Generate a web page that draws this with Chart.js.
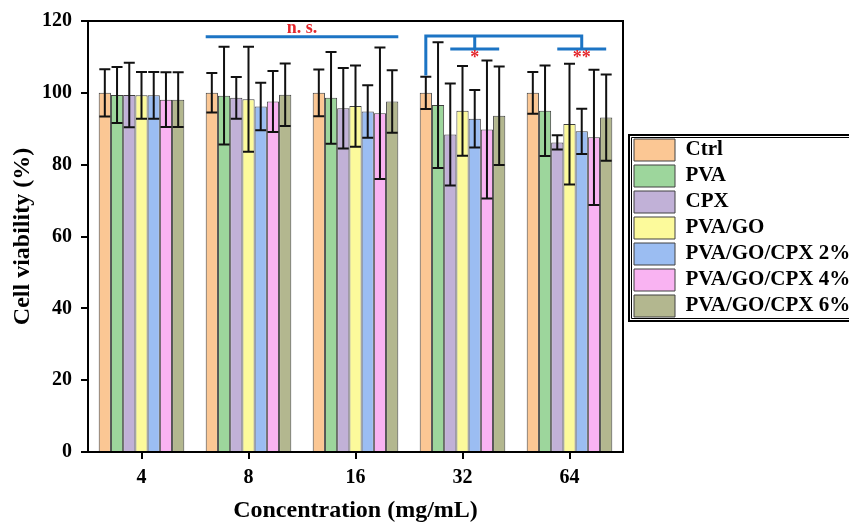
<!DOCTYPE html>
<html>
<head>
<meta charset="utf-8">
<script src="https://cdn.jsdelivr.net/npm/chart.js@4.4.1/dist/chart.umd.min.js"></script>
<style>
  html, body { margin: 0; background: #fff; overflow: hidden; }
  #wrap { width: 849px; height: 523px; }
  #myChart { display: block; }
</style>
</head>
<body>
<div id="wrap"><canvas id="myChart" width="849" height="523"></canvas></div>
<script>
// categories and groups
const concentrations = ['4', '8', '16', '32', '64'];
const groupNames = ['Ctrl', 'PVA', 'CPX', 'PVA/GO', 'PVA/GO/CPX 2%', 'PVA/GO/CPX 4%', 'PVA/GO/CPX 6%'];

// mean cell viability (%) per group, one value per concentration
const ctrlMean   = [100.0, 100.0, 100.0, 100.0, 100.0];
const pvaMean    = [99.4, 99.2, 98.6, 96.6, 95.0];
const cpxMean    = [99.4, 98.6, 95.7, 88.4, 86.2];
const pvaGoMean  = [99.3, 98.2, 96.3, 95.0, 91.3];
const cpx2Mean   = [99.3, 96.2, 94.8, 92.8, 89.3];
const cpx4Mean   = [98.1, 97.6, 94.3, 89.8, 87.6];
const cpx6Mean   = [98.1, 99.5, 97.6, 93.6, 93.1];

// standard deviations
const ctrlSd   = [6.6, 5.5, 6.5, 4.5, 5.8];
const pvaSd    = [7.8, 13.6, 12.8, 17.5, 12.6];
const cpxSd    = [9.0, 5.8, 11.2, 14.2, 2.0];
const pvaGoSd  = [6.5, 14.6, 11.3, 12.5, 16.8];
const cpx2Sd   = [6.5, 6.6, 7.3, 8.0, 6.3];
const cpx4Sd   = [7.6, 8.5, 18.3, 19.2, 18.8];
const cpx6Sd   = [7.6, 8.7, 8.7, 13.7, 12.0];

const yTicks = [0, 20, 40, 60, 80, 100, 120];

const means = [ctrlMean, pvaMean, cpxMean, pvaGoMean, cpx2Mean, cpx4Mean, cpx6Mean];
const sds = [ctrlSd, pvaSd, cpxSd, pvaGoSd, cpx2Sd, cpx4Sd, cpx6Sd];
const colorHex = ['#fbc794', '#9dd69c', '#c1b1d7', '#fcfa9b', '#9bbdf2', '#f9b3f2', '#b3b78f'];

const serif = "'Liberation Serif', 'Times New Roman', serif";
const blue = '#1c74c4';
const red = '#e4262b';

// error bars on top of each bar
const errorBars = {
  id: 'errorBars',
  afterDatasetsDraw(chart) {
    const ctx = chart.ctx;
    const y = chart.scales.y;
    ctx.save();
    ctx.strokeStyle = '#111';
    ctx.lineWidth = 2;
    chart.data.datasets.forEach((ds, i) => {
      const meta = chart.getDatasetMeta(i);
      meta.data.forEach((bar, j) => {
        const m = ds.data[j], e = ds.errors[j];
        const yt = y.getPixelForValue(m + e), yb = y.getPixelForValue(m - e);
        ctx.beginPath();
        ctx.moveTo(bar.x, yt); ctx.lineTo(bar.x, yb);
        ctx.moveTo(bar.x - 5.5, yt); ctx.lineTo(bar.x + 5.5, yt);
        ctx.moveTo(bar.x - 5.5, yb); ctx.lineTo(bar.x + 5.5, yb);
        ctx.stroke();
      });
    });
    ctx.restore();
  }
};

// plot frame, significance brackets, legend frame
const extras = {
  id: 'extras',
  afterLayout(chart) {
    // place the legend block next to the plot, like the original
    const lg = chart.legend;
    const w = lg.width, h = lg.height;
    lg.left = chart.chartArea.right + 7;
    lg.right = lg.left + w;
    lg.top = 135;
    lg.bottom = lg.top + h;
  },
  afterDraw(chart) {
    const ctx = chart.ctx;
    const a = chart.chartArea;
    const y = chart.scales.y;
    const bar = (d, i) => chart.getDatasetMeta(d).data[i];
    ctx.save();
    ctx.strokeStyle = '#000';
    ctx.lineWidth = 2;
    ctx.strokeRect(a.left, a.top, a.right - a.left, a.bottom - a.top);

    // n.s. line over 8 and 16
    ctx.strokeStyle = blue;
    ctx.lineWidth = 3;
    const nsY = y.getPixelForValue(115.6);
    const b0 = bar(0, 1), b6 = bar(6, 2);
    const x0 = b0.x - b0.width / 2, x1 = b6.x + b6.width / 2;
    ctx.beginPath();
    ctx.moveTo(x0, nsY); ctx.lineTo(x1, nsY);
    ctx.stroke();
    ctx.fillStyle = red;
    ctx.font = 'bold 18px ' + serif;
    ctx.textAlign = 'center';
    ctx.textBaseline = 'middle';
    ctx.fillText('n. s.', (x0 + x1) / 2, y.getPixelForValue(117.9));

    // brackets for 32 and 64
    const topY = y.getPixelForValue(115.8);
    const subY = y.getPixelForValue(112.2);
    const dropY = y.getPixelForValue(104.8);
    const cx = bar(0, 3).x;
    const s1a = bar(2, 3).x, s1b = bar(6, 3).x;
    const s2a = bar(2, 4).x, s2b = bar(6, 4).x;
    const m1 = (s1a + s1b) / 2, m2 = (s2a + s2b) / 2;
    ctx.beginPath();
    ctx.moveTo(cx, dropY); ctx.lineTo(cx, topY); ctx.lineTo(m2, topY); ctx.lineTo(m2, subY);
    ctx.moveTo(m1, topY); ctx.lineTo(m1, subY);
    ctx.moveTo(s1a, subY); ctx.lineTo(s1b, subY);
    ctx.moveTo(s2a, subY); ctx.lineTo(s2b, subY);
    ctx.stroke();
    ctx.font = 'bold 18px ' + serif;
    const starY = y.getPixelForValue(109.5);
    ctx.fillText('*', m1, starY);
    ctx.fillText('**', m2, starY);

    // legend frame (double line), open past the right edge
    const lg = chart.legend;
    const lab = lg.options.labels;
    const n = lg.legendItems.length;
    const itemsLeft = lg.left + lab.padding;
    const itemsTop = lg.top + lab.padding;
    const itemsBottom = itemsTop + n * (lab.boxHeight + lab.padding) - lab.padding;
    const l = itemsLeft - 5, t = itemsTop - 4, b = itemsBottom + 4;
    ctx.strokeStyle = '#000';
    ctx.lineWidth = 2;
    ctx.beginPath();
    ctx.moveTo(chart.width + 20, t); ctx.lineTo(l, t); ctx.lineTo(l, b); ctx.lineTo(chart.width + 20, b);
    ctx.stroke();
    ctx.lineWidth = 1;
    ctx.beginPath();
    ctx.moveTo(chart.width + 20, t + 2.5); ctx.lineTo(l + 2.5, t + 2.5); ctx.lineTo(l + 2.5, b - 2.5); ctx.lineTo(chart.width + 20, b - 2.5);
    ctx.stroke();
    ctx.restore();
  }
};

const ctx = document.getElementById('myChart').getContext('2d');
const myChart = new Chart(ctx, {
  type: 'bar',
  data: {
    labels: concentrations,
    datasets: groupNames.map((name, i) => ({
      label: name,
      data: means[i],
      errors: sds[i],
      backgroundColor: colorHex[i],
      borderColor: '#404040',
      borderWidth: 1,
      categoryPercentage: 0.8,
      barPercentage: 1.0
    }))
  },
  plugins: [errorBars, extras],
  options: {
    responsive: false,
    animation: false,
    layout: { padding: { top: 20, left: 0, right: 6, bottom: 0 } },
    plugins: {
      tooltip: { enabled: false },
      legend: {
        position: 'right',
        align: 'start',
        maxWidth: 220,
        labels: {
          boxWidth: 41,
          boxHeight: 22,
          padding: 4,
          color: '#000',
          font: { family: serif, size: 21, weight: 'bold' }
        }
      }
    },
    scales: {
      x: {
        afterFit: (s) => { s.height = 71; },
        grid: { offset: false, drawOnChartArea: false, tickLength: 7, color: '#000', lineWidth: 2 },
        border: { color: '#000', width: 2 },
        ticks: { color: '#000', padding: 7, font: { family: serif, size: 20, weight: 'bold' } },
        title: {
          display: true, text: 'Concentration (mg/mL)', color: '#000',
          padding: { top: 0, bottom: -2 },
          font: { family: serif, size: 24, weight: 'bold' }
        }
      },
      y: {
        min: 0, max: 120,
        afterFit: (s) => { s.width = 88; },
        afterBuildTicks: (s) => { s.ticks = yTicks.map(v => ({ value: v })); },
        grid: { drawOnChartArea: false, tickLength: 7, color: '#000', lineWidth: 2 },
        border: { color: '#000', width: 2 },
        ticks: { color: '#000', padding: 9, font: { family: serif, size: 20, weight: 'bold' } },
        title: {
          display: true, text: 'Cell viability (%)', color: '#000',
          padding: { top: 8, bottom: 0 },
          font: { family: serif, size: 24, weight: 'bold' }
        }
      }
    }
  }
});
</script>
</body>
</html>
